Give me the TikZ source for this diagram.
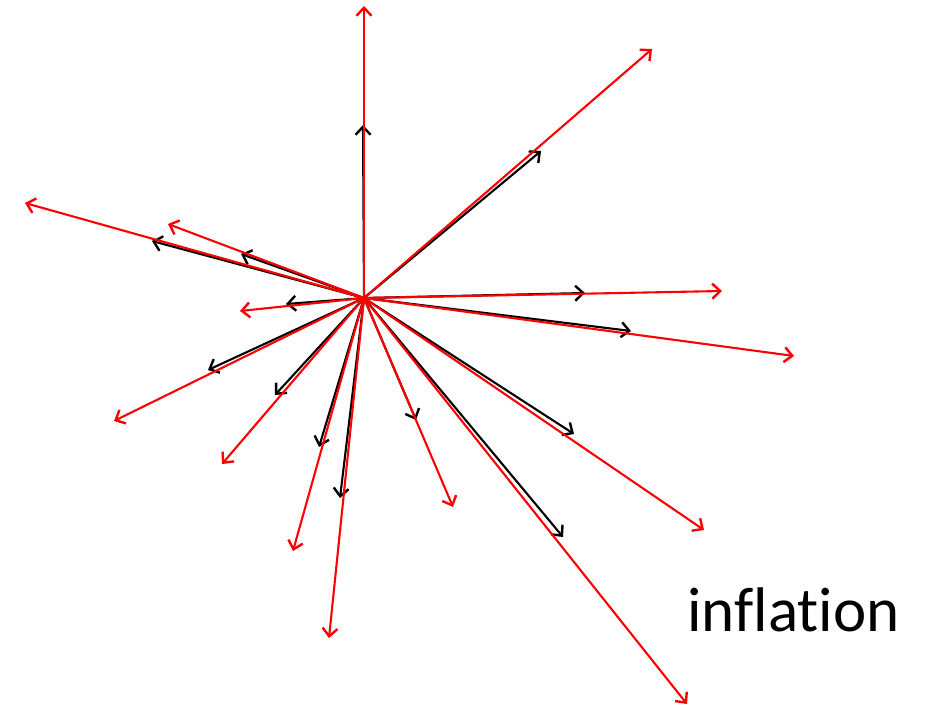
\documentclass[tikz,border=0pt]{standalone}
\usepackage{fontspec}
\setmainfont[Ligatures=NoCommon]{Carlito}
\usetikzlibrary{arrows.meta}
\begin{document}
\begin{tikzpicture}[x=1pt,y=-1pt,
  vec/.style={line width=2.1pt,-{Straight Barb[length=8pt,width=15pt,line width=2.4pt]}},
  blk/.style={vec,draw=black},
  rd/.style={vec,draw=red}]
\useasboundingbox (0,0) rectangle (930,707);
\coordinate (O) at (364,298);
% black endpoints
\coordinate (b1) at (363,125);
\coordinate (b2) at (541,151);
\coordinate (b3) at (585,293);
\coordinate (b4) at (631,331);
\coordinate (b5) at (574,434);
\coordinate (b6) at (563,537);
\coordinate (b7) at (416,420);
\coordinate (b8) at (340,498);
\coordinate (b9) at (319,447);
\coordinate (b10) at (275,395);
\coordinate (b11) at (208,370);
\coordinate (b12) at (286,304);
\coordinate (b13) at (241,254);
\coordinate (b14) at (152,241);
% red endpoints
\coordinate (r1) at (364,6);
\coordinate (r2) at (652,49);
\coordinate (r3) at (722,291);
\coordinate (r4) at (794,356);
\coordinate (r5) at (704,530);
\coordinate (r6) at (687,704);
\coordinate (r7) at (453,507);
\coordinate (r8) at (329,638);
\coordinate (r9) at (293,551);
\coordinate (r10) at (222,464);
\coordinate (r11) at (114,421);
\coordinate (r12) at (240,311);
\coordinate (r13) at (168,224);
\coordinate (r14) at (25,203);
\foreach \i in {1,...,14} {\draw[blk] (O) -- (b\i);}
\foreach \i in {1,...,14} {\draw[rd] (O) -- (r\i);}
\node[anchor=base west,inner sep=0pt,font=\fontsize{63}{68}\selectfont] (lbl) at (687,631) {inflation};
\end{tikzpicture}
\end{document}
